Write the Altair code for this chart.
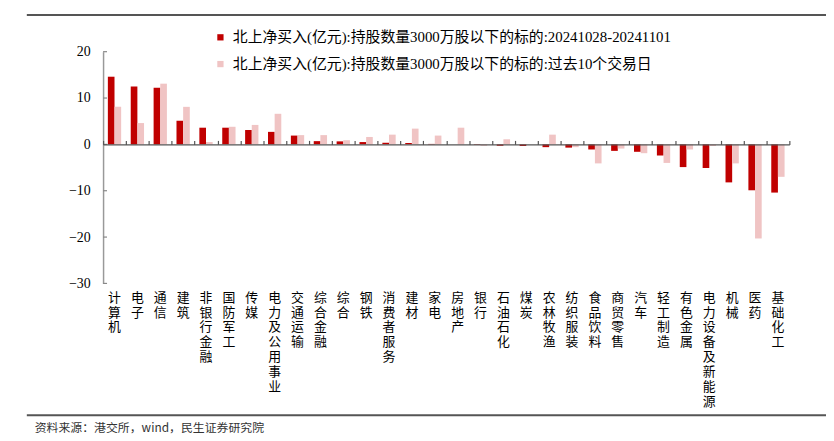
import altair as alt
import pandas as pd

categories = ["计算机", "电子", "通信", "建筑", "非银行金融", "国防军工", "传媒", "电力及公用事业",
              "交通运输", "综合金融", "综合", "钢铁", "消费者服务", "建材", "家电", "房地产", "银行",
              "石油石化", "煤炭", "农林牧渔", "纺织服装", "食品饮料", "商贸零售", "汽车", "轻工制造",
              "有色金属", "电力设备及新能源", "机械", "医药", "基础化工"]
week_flow = [14.6, 12.5, 12.2, 5.1, 3.6, 3.6, 3.1, 2.7, 1.9, 0.7, 0.65, 0.5, 0.35, 0.3, 0.1,
             0.0, -0.1, -0.3, -0.35, -0.6, -0.7, -1.1, -1.4, -1.6, -2.4, -4.9, -5.1, -8.2, -9.9, -10.4]
ten_day_flow = [8.1, 4.6, 13.1, 8.1, 0.5, 3.8, 4.2, 6.6, 2.0, 2.0, 0.9, 1.6, 2.1, 3.4, 1.9,
                3.6, -0.3, 1.1, 0.0, 2.1, -0.6, -4.1, -0.9, -1.9, -4.0, -1.1, -0.35, -4.1, -20.3, -7.0]
series_names = ["北上净买入(亿元):持股数量3000万股以下的标的:20241028-20241101",
                "北上净买入(亿元):持股数量3000万股以下的标的:过去10个交易日"]
series_colors = ["#C00000", "#F0C4C4"]
y_ticks = [20, 10, 0, -10, -20, -30]
source_note = "资料来源：港交所，wind，民生证券研究院"

rows = []
for c, a, b in zip(categories, week_flow, ten_day_flow):
    rows.append({"industry": c, "series": series_names[0], "value": a})
    rows.append({"industry": c, "series": series_names[1], "value": b})
df = pd.DataFrame(rows)

W, H = 693, 234
PAD_L, PAD_T = 96, 42
TOTAL_W, TOTAL_H = 826, 433

CJK = "Noto Sans CJK SC"
SERIF = "Liberation Serif, 'Noto Sans CJK SC'"

x_scale = alt.Scale(domain=categories, paddingInner=0, paddingOuter=0)
y_scale = alt.Scale(domain=[-30, 20], nice=False, zero=False)

bars = alt.Chart(df).mark_bar().encode(
    x=alt.X("industry:N", scale=x_scale, sort=categories,
            axis=alt.Axis(title=None, orient="bottom", domain=False, ticks=False, grid=False,
                          labelAngle=0, labelAlign="center", labelBaseline="top",
                          labelExpr="split(datum.label, '')", labelFont=CJK, labelFontSize=13,
                          labelLineHeight=15, labelPadding=8, labelColor="#000",
                          labelOverlap=False, labelLimit=0)),
    xOffset=alt.XOffset("series:N", scale=alt.Scale(domain=series_names, paddingInner=0, paddingOuter=0.72)),
    y=alt.Y("value:Q", scale=y_scale,
            axis=alt.Axis(title=None, values=y_ticks, ticks=False, grid=False,
                          domainColor="#999", domainWidth=1.5,
                          labelFont="Liberation Serif", labelFontSize=14, labelPadding=13,
                          labelColor="#000")),
    color=alt.Color("series:N", scale=alt.Scale(domain=series_names, range=series_colors),
                    legend=alt.Legend(title=None, orient="none", legendX=111, legendY=-22,
                                      direction="vertical", symbolType="square", symbolSize=40,
                                      symbolStrokeWidth=0, labelFont=SERIF, labelFontSize=15,
                                      labelColor="#000", rowPadding=11, labelOffset=5,
                                      padding=0, labelLimit=700)),
)

zero_axis = alt.Chart(df).mark_point(opacity=0).encode(
    x=alt.X("industry:N", scale=x_scale, sort=categories,
            axis=alt.Axis(title=None, orient="top", offset=-H * 0.4, labels=False,
                          ticks=True, tickBand="extent", tickSize=4, tickColor="#555",
                          tickWidth=1.2, domainColor="#555", domainWidth=1.5, grid=False,
                          zindex=1)),
)

tick_df = pd.DataFrame({"v": y_ticks})
y_inner_ticks = alt.Chart(tick_df).mark_rule(color="#888", strokeWidth=1.2).encode(
    y=alt.Y("v:Q", scale=y_scale), x=alt.value(0), x2=alt.value(4)
)

one = pd.DataFrame({"a": [0]})
top_line = alt.Chart(one).mark_rule(color="#555", strokeWidth=2).encode(
    x=alt.value(-77), x2=alt.value(730), y=alt.value(-37)
)
bottom_line = alt.Chart(one).mark_rule(color="#555", strokeWidth=2).encode(
    x=alt.value(-77), x2=alt.value(730), y=alt.value(367)
)
source = alt.Chart(one).mark_text(align="left", baseline="middle", font=CJK, fontSize=12,
                                  color="#333").encode(
    x=alt.value(-69), y=alt.value(380), text=alt.value(source_note)
)

chart = alt.layer(bars, zero_axis, y_inner_ticks, top_line, bottom_line, source).resolve_axis(
    x="independent"
).properties(
    width=W, height=H,
    autosize=alt.AutoSizeParams(type="none"),
    padding={"left": PAD_L, "top": PAD_T, "right": TOTAL_W - W - PAD_L, "bottom": TOTAL_H - H - PAD_T},
).configure_view(stroke=None)

chart.save("out.html", embed_options={"renderer": "svg", "actions": False})
